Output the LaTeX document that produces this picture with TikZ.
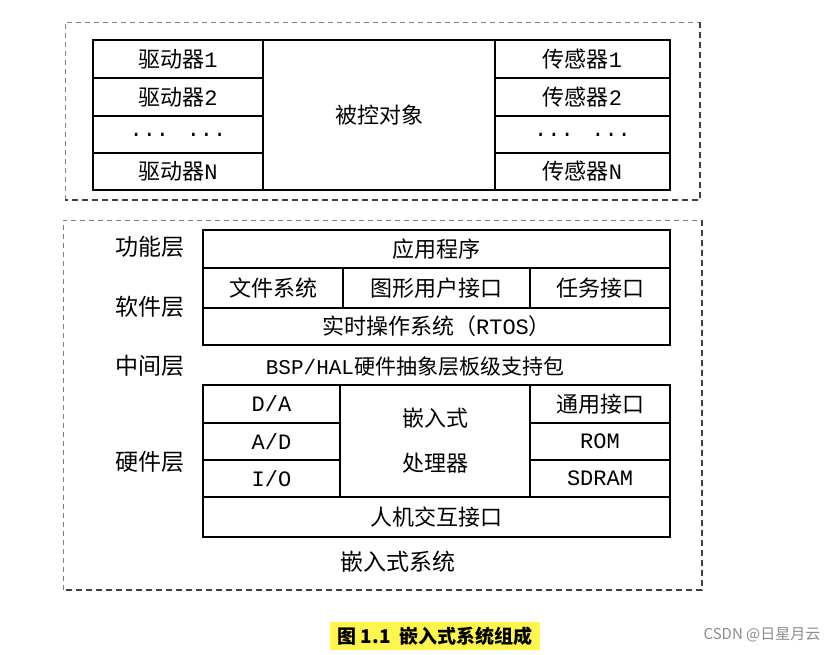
\documentclass[tikz,border=0pt]{standalone}
\usepackage{fontspec}
\setmainfont{Liberation Mono}
\newfontfamily\cjk{Noto Sans CJK SC}
\newcommand{\zh}[1]{{\cjk #1}}
\begin{document}
\begin{tikzpicture}[x=1pt,y=-1pt,
  cell/.style={draw=black,line width=2.2pt,fill=white,inner sep=0pt,font=\fontsize{22}{26}\selectfont},
  lbl/.style={inner sep=0pt,font=\fontsize{23}{26}\selectfont},
  dthin/.style={draw=black!50,line width=0.8pt,dash pattern=on 5pt off 4pt},
  dthick/.style={draw=black!75,line width=2.2pt,dash pattern=on 6pt off 4pt}]
\useasboundingbox[fill=white] (0,0) rectangle (837,654);
% outer dashed frames
\coordinate (a1) at (65,22); \coordinate (a2) at (700,22);
\coordinate (a3) at (700,200); \coordinate (a4) at (65,200);
\draw[dthin] (a4) -- (a1) -- (a2);
\draw[dthick] (a2) -- (a3) -- (a4);
\coordinate (b1) at (63,220); \coordinate (b2) at (702,220);
\coordinate (b3) at (702,590); \coordinate (b4) at (63,590);
\draw[dthin] (b4) -- (b1) -- (b2);
\draw[dthick] (b2) -- (b3) -- (b4);
% top block
\node[cell,minimum width=232,minimum height=150] (obj) at (379,115) {\zh{被控对象}};
\node[cell,minimum width=170,minimum height=38] (d1) at (178,59) {\zh{驱动器}1};
\node[cell,minimum width=170,minimum height=38] (d2) at (178,97) {\zh{驱动器}2};
\node[cell,minimum width=170,minimum height=37] (d3) at (178,134.5) {... ...};
\node[cell,minimum width=170,minimum height=37] (dn) at (178,171.5) {\zh{驱动器}N};
\node[cell,minimum width=175,minimum height=38] (s1) at (582.5,59) {\zh{传感器}1};
\node[cell,minimum width=175,minimum height=38] (s2) at (582.5,97) {\zh{传感器}2};
\node[cell,minimum width=175,minimum height=37] (s3) at (582.5,134.5) {... ...};
\node[cell,minimum width=175,minimum height=37] (sn) at (582.5,171.5) {\zh{传感器}N};
% software
\node[cell,minimum width=467,minimum height=38] (app) at (436.5,249) {\zh{应用程序}};
\node[cell,minimum width=140,minimum height=40] (fs) at (273,288) {\zh{文件系统}};
\node[cell,minimum width=187,minimum height=40] (gui) at (436.5,288) {\zh{图形用户接口}};
\node[cell,minimum width=140,minimum height=40] (task) at (600,288) {\zh{任务接口}};
\node[cell,minimum width=467,minimum height=37] (rtos) at (436.5,326.5) {\zh{实时操作系统（}RTOS\zh{）}};
\node[inner sep=0pt,font=\fontsize{21}{24}\selectfont] (bsp) at (415,367) {BSP/HAL\zh{硬件抽象层板级支持包}};
% hardware
\node[cell,minimum width=190,minimum height=112,align=center,font=\fontsize{22}{45}\selectfont] (cpu) at (435,441) {\zh{嵌入式}\\\zh{处理器}};
\node[cell,minimum width=137,minimum height=38] (da) at (271.5,404) {D/A};
\node[cell,minimum width=137,minimum height=37] (ad) at (271.5,441.5) {A/D};
\node[cell,minimum width=137,minimum height=37] (io) at (271.5,478.5) {I/O};
\node[cell,minimum width=140,minimum height=38] (gen) at (600,404) {\zh{通用接口}};
\node[cell,minimum width=140,minimum height=37] (rom) at (600,441.5) {ROM};
\node[cell,minimum width=140,minimum height=37] (ram) at (600,478.5) {SDRAM};
\node[cell,minimum width=467,minimum height=40] (hmi) at (436.5,517) {\zh{人机交互接口}};
% layer labels
\node[lbl] (l1) at (150,247) {\zh{功能层}};
\node[lbl] (l2) at (150,307) {\zh{软件层}};
\node[lbl] (l3) at (150,366) {\zh{中间层}};
\node[lbl] (l4) at (150,462) {\zh{硬件层}};
\node[lbl] (sys) at (398,562) {\zh{嵌入式系统}};
% caption
\fill[yellow!70] (330,622) rectangle (540,650);
\node[inner sep=0pt,font=\cjk\bfseries\fontsize{19}{22}\selectfont] (cap) at (435,636) {图 1.1\ \ 嵌入式系统组成};
\node[inner sep=0pt,text=black!45,font=\cjk\fontsize{15}{18}\selectfont] (wm) at (762,635) {CSDN @日星月云};
\end{tikzpicture}
\end{document}
